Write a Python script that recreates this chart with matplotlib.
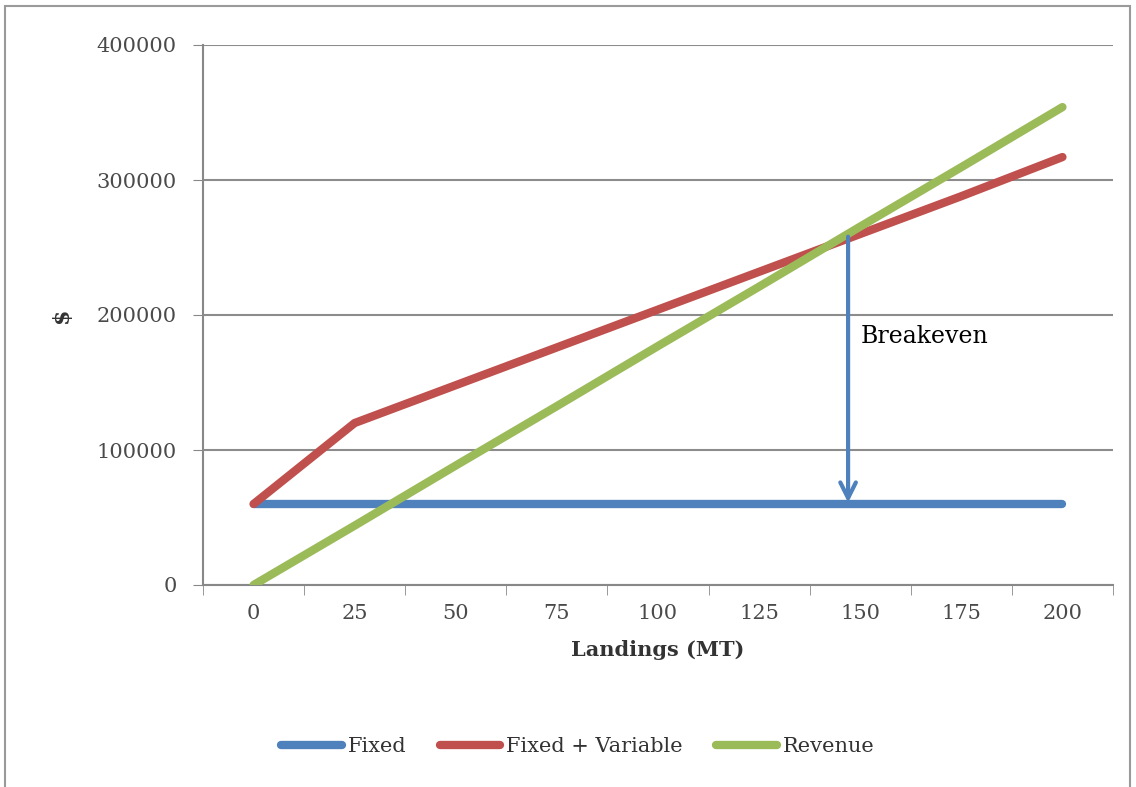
import numpy as np
import matplotlib
matplotlib.use("Agg")
import matplotlib.pyplot as plt
from matplotlib.patches import Rectangle

# landings categories (MT) and series values ($)
landings = ["0", "25", "50", "75", "100", "125", "150", "175", "200"]
fixed = [60000, 60000, 60000, 60000, 60000, 60000, 60000, 60000, 60000]
fixed_var = [60000, 120000, 148000, 176000, 204000, 232000, 260000, 288000, 317000]
revenue = [0, 44000, 88500, 132500, 177000, 221000, 265500, 309500, 354000]
y_ticks = [0, 100000, 200000, 300000, 400000]

# breakeven arrow: category position, from cost level down to fixed
be_x = 5.88
be_top = 258000
be_bottom = 61000

serif = "DejaVu Serif"
tick_col = "#4a4a4a"

fig = plt.figure(figsize=(11.36, 7.87), dpi=100)
fig.patches.append(Rectangle((5 / 1136, -0.01), 1125 / 1136, 1 - 6 / 787 + 0.01,
                             transform=fig.transFigure, fill=False,
                             edgecolor="#9a9a9a", lw=1.5))

ax = fig.add_axes([203 / 1136, 1 - 585 / 787, 910 / 1136, 540 / 787])
x = np.arange(len(landings))

ax.plot(x, fixed, color="#4F81BD", lw=6, solid_capstyle="round", label="Fixed", zorder=3)
ax.plot(x, fixed_var, color="#C0504D", lw=6, solid_capstyle="round", label="Fixed + Variable", zorder=4)
ax.plot(x, revenue, color="#9BBB59", lw=6, solid_capstyle="round", label="Revenue", zorder=5)

ax.annotate("", xy=(be_x, be_bottom), xytext=(be_x, be_top),
            arrowprops=dict(arrowstyle="->", color="#4F81BD", lw=3, mutation_scale=28,
                            shrinkA=0, shrinkB=0), zorder=6)
ax.text(6.0, 184000, "Breakeven", fontsize=17, family=serif, color="black", va="center", ha="left")

ax.set_xlim(-0.5, len(landings) - 0.5)
ax.set_ylim(0, 400000)
ax.set_yticks(y_ticks)
ax.set_yticklabels([str(v) for v in y_ticks])
ax.set_xticks(x)
ax.set_xticklabels(landings)
ax.set_xticks(np.arange(-0.5, len(landings)), minor=True)
ax.tick_params(axis="x", which="major", length=0, pad=14)
ax.tick_params(axis="x", which="minor", length=7, color="#888888", direction="out")
ax.tick_params(axis="y", length=7, color="#888888", pad=12)
for lab in ax.get_xticklabels() + ax.get_yticklabels():
    lab.set_fontfamily(serif)
    lab.set_fontsize(15)
    lab.set_color(tick_col)

ax.grid(axis="y", color="#8c8c8c", lw=1.5)
ax.set_axisbelow(True)
for s in ["top", "right"]:
    ax.spines[s].set_visible(False)
for s in ["left", "bottom"]:
    ax.spines[s].set_color("#888888")
    ax.spines[s].set_linewidth(1.5)

ax.set_xlabel("Landings (MT)", fontsize=15, family=serif, fontweight="bold", color="#333333", labelpad=12)
fig.text(62 / 1136, 1 - 315 / 787, "$", rotation=90, fontsize=16, family=serif,
         fontweight="bold", color="#333333", ha="center", va="center")

leg = fig.legend(loc="center", bbox_to_anchor=(578 / 1136, 1 - 747 / 787), ncol=3, frameon=False,
                 prop={"family": serif, "size": 15}, handlelength=2.9, handletextpad=0.3,
                 columnspacing=1.6)
for t in leg.get_texts():
    t.set_color("#333333")

fig.savefig("out.png", dpi=100)
